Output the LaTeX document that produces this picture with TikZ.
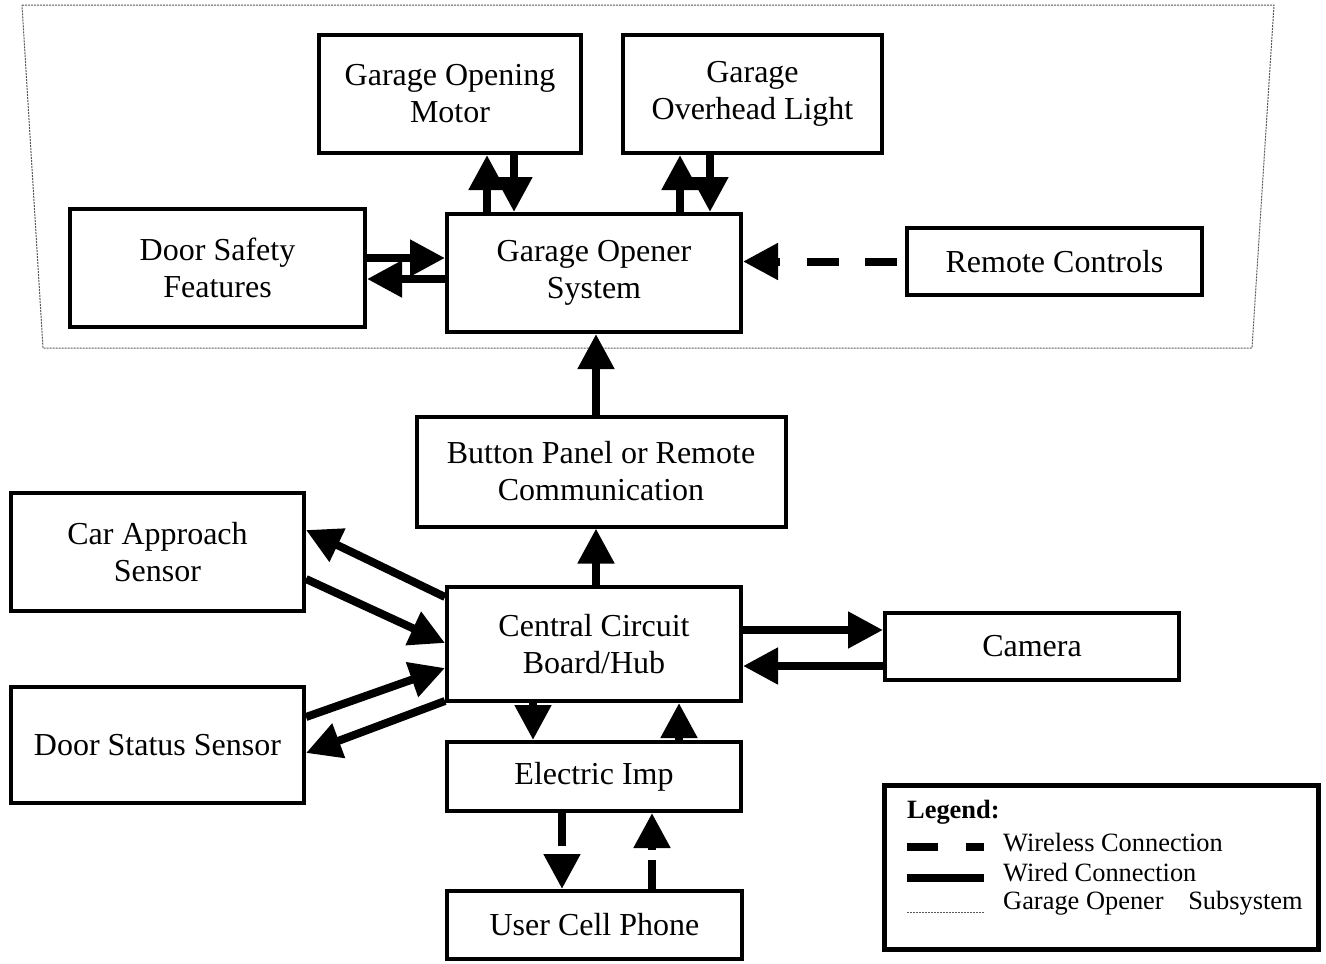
\documentclass[tikz,border=0pt]{standalone}
\usepackage{fontspec}
\setmainfont{Liberation Serif}
\usetikzlibrary{arrows.meta}

\tikzset{
  box/.style={draw, line width=4pt, align=center, inner sep=0pt,
    font=\fontsize{32}{37}\selectfont},
  wired/.style={line width=8pt, -{Triangle[length=35pt,width=35pt]}},
  wireless/.style={wired, dash pattern=on 32pt off 26.5pt, dash phase=50.5pt},
  subsys/.style={draw=black!65, line width=1pt, dash pattern=on 2pt off 1pt},
  legtext/.style={anchor=west, inner sep=0pt, font=\fontsize{26.4}{30}\selectfont}
}

\begin{document}
\begin{tikzpicture}[x=1pt,y=-1pt]
\useasboundingbox (0,0) rectangle (1326,964);

% garage opener subsystem
\draw[subsys] (22,5) -- (1274,5) -- (1252,348) -- (43,348) -- cycle;

\node[box, minimum width=262, minimum height=118] (motor) at (450,94) {Garage Opening\\Motor};
\node[box, minimum width=259, minimum height=118] (light) at (752.5,94) {Garage\\Overhead Light};
\node[box, minimum width=295, minimum height=118] (dsf) at (217.5,268) {Door Safety\\Features};
\node[box, minimum width=294, minimum height=118] (gos) at (594,273) {Garage Opener\\System};
\node[box, minimum width=295, minimum height=67] (remote) at (1054.5,261.5) {Remote Controls};

\node[box, minimum width=369, minimum height=110] (button) at (601,471.5) {Button Panel or Remote\\Communication};
\node[box, minimum width=293, minimum height=118] (car) at (157.5,552) {Car Approach\\Sensor};
\node[box, minimum width=294, minimum height=114] (central) at (594,644) {Central Circuit\\Board/Hub};
\node[box, minimum width=294, minimum height=67] (camera) at (1032,646.5) {Camera};
\node[box, minimum width=293, minimum height=116] (dstatus) at (157.5,745) {Door Status Sensor};
\node[box, minimum width=294, minimum height=69] (imp) at (594,776.5) {Electric Imp};
\node[box, minimum width=295, minimum height=68] (phone) at (594.5,925) {User Cell Phone};

% subsystem links
\draw[wired] ([xshift=-107pt]gos.north) -- ([xshift=37pt]motor.south);
\draw[wired] ([xshift=64pt]motor.south) -- ([xshift=-80pt]gos.north);
\draw[wired] ([xshift=86pt]gos.north) -- ([xshift=-72.5pt]light.south);
\draw[wired] ([xshift=-42.5pt]light.south) -- ([xshift=116pt]gos.north);
\draw[wired] ([yshift=10pt]dsf.east) -- ([yshift=15pt]gos.west);
\draw[wired] ([yshift=-6pt]gos.west) -- ([yshift=-11pt]dsf.east);
\draw[wireless] (remote.west) -- (remote.west -| gos.east);

% hub links
\draw[wired] ([xshift=2pt]gos.south |- button.north) -- ([xshift=2pt]gos.south);
\draw[wired] ([xshift=2pt]central.north) -- ([xshift=2pt]central.north |- button.south);
\draw[wired] ([yshift=47pt]central.west) -- ([yshift=22pt]car.east);
\draw[wired] ([yshift=-27pt]car.east) -- ([yshift=1pt]central.west);
\draw[wired] ([yshift=28pt]dstatus.east) -- ([yshift=-24pt]central.west);
\draw[wired] ([yshift=-57pt]central.west) -- ([yshift=-8pt]dstatus.east);
\draw[wired] ([yshift=14pt]central.east) -- ([yshift=16.5pt]camera.west);
\draw[wired] ([yshift=-19.5pt]camera.west) -- ([yshift=-22pt]central.east);
\draw[wired] ([xshift=-61pt]central.south) -- ([xshift=-61pt]imp.north);
\draw[wired] ([xshift=85pt]imp.north) -- ([xshift=85pt]central.south);
\draw[wireless, dash pattern=on 33pt off 10pt, dash phase=0pt] ([xshift=-32pt]imp.south) -- ([xshift=-32.5pt]phone.north);
\draw[wireless, dash pattern=on 29pt off 10pt, dash phase=0pt] ([xshift=57.5pt]phone.north) -- ([xshift=58pt]imp.south);

% legend
\node[draw, line width=5pt, minimum width=434, minimum height=164] (legend) at (1101,867) {};
\node[legtext, font=\fontsize{26.4}{30}\selectfont\bfseries] (leghead) at (907,812) {Legend:};
\node[legtext] (legwl) at (1003,843) {Wireless Connection};
\node[legtext] (legwd) at (1003,873) {Wired Connection};
\node[legtext] (legsub) at (1003,903) {Garage Opener\hspace{18pt} Subsystem};
\draw[line width=8pt, dash pattern=on 31pt off 28pt] ([xshift=-96pt,yshift=-4pt]legwl.west) -- ([xshift=-19pt,yshift=-4pt]legwl.west);
\draw[line width=8pt] ([xshift=-96pt,yshift=-5pt]legwd.west) -- ([xshift=-19pt,yshift=-5pt]legwd.west);
\draw[subsys] ([xshift=-96pt,yshift=-9pt]legsub.west) -- ([xshift=-19pt,yshift=-9pt]legsub.west);
\end{tikzpicture}
\end{document}
